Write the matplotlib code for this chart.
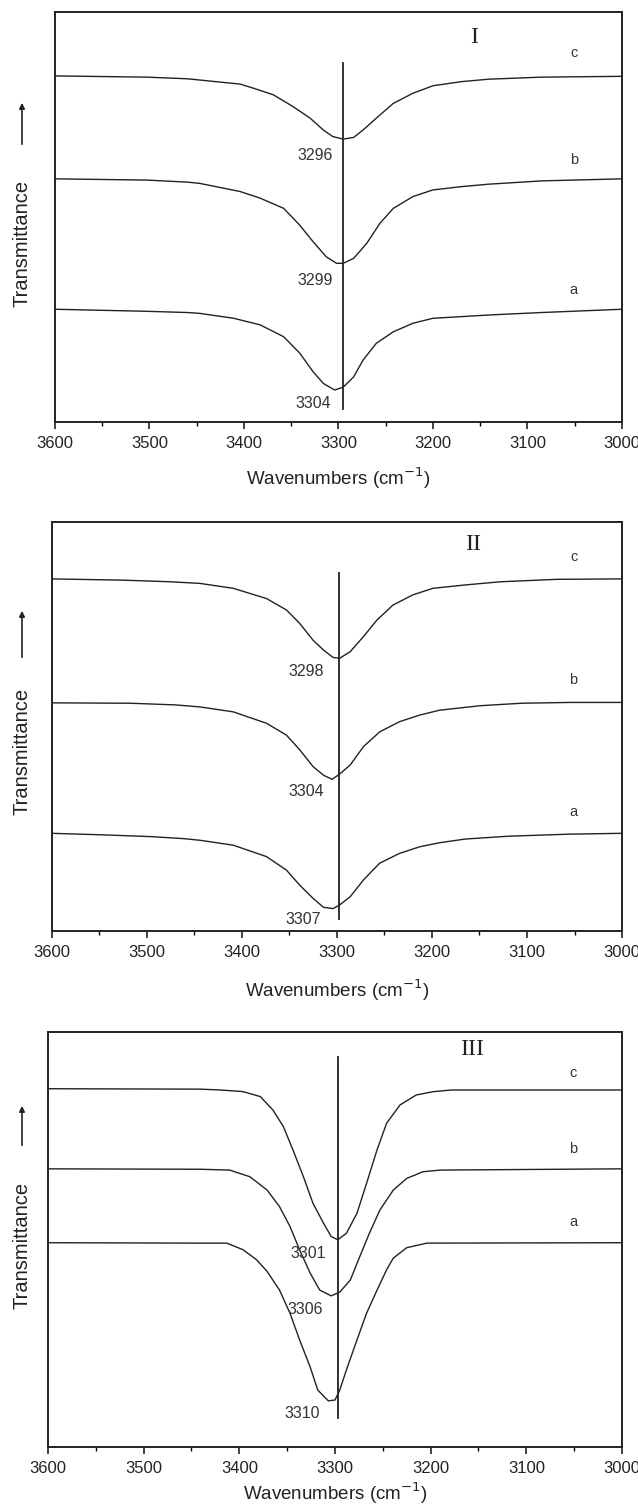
import matplotlib
matplotlib.use("Agg")
import matplotlib.pyplot as plt
from matplotlib.ticker import MultipleLocator

plt.rcParams['font.family'] = ['Liberation Sans', 'DejaVu Sans']

# ---- panel I ----
w1_c = [3600, 3503, 3460, 3447, 3404, 3390, 3369, 3348, 3330, 3316, 3306, 3295,
        3284, 3274, 3260, 3242, 3221, 3200, 3170, 3141, 3085, 3000]
t1_c = [84.4, 84.1, 83.7, 83.4, 82.4, 81.4, 79.8, 76.9, 74.1, 71.2, 69.6, 69.0,
        69.4, 71.2, 74.1, 77.7, 80.2, 82.0, 83.0, 83.6, 84.1, 84.3]
w1_b = [3600, 3503, 3460, 3447, 3404, 3383, 3358, 3341, 3327, 3313, 3302, 3295,
        3284, 3270, 3256, 3242, 3221, 3200, 3170, 3141, 3085, 3000]
t1_b = [59.3, 59.0, 58.5, 58.2, 56.2, 54.6, 52.1, 48.0, 44.0, 40.3, 38.7, 38.7,
        39.9, 43.6, 48.5, 52.1, 55.0, 56.6, 57.4, 58.0, 58.8, 59.3]
w1_a = [3600, 3503, 3460, 3447, 3411, 3383, 3358, 3341, 3327, 3316, 3304, 3295,
        3284, 3274, 3260, 3242, 3221, 3200, 3170, 3141, 3085, 3000]
t1_a = [27.5, 27.0, 26.7, 26.5, 25.3, 23.7, 20.8, 16.8, 12.3, 9.4, 7.8, 8.5,
        11.0, 15.1, 19.2, 22.0, 24.1, 25.3, 25.7, 26.1, 26.7, 27.5]

# ---- panel II ----
w2_c = [3600, 3526, 3475, 3444, 3409, 3374, 3353, 3339, 3325, 3314, 3304, 3297,
        3286, 3272, 3258, 3241, 3220, 3199, 3166, 3128, 3068, 3000]
t2_c = [86.1, 85.8, 85.4, 85.0, 83.8, 81.3, 78.5, 75.2, 71.1, 68.7, 66.9, 66.7,
        68.3, 72.0, 76.0, 79.7, 82.2, 83.8, 84.6, 85.4, 86.0, 86.1]
w2_b = [3600, 3517, 3470, 3444, 3409, 3374, 3353, 3339, 3325, 3314, 3305, 3297,
        3286, 3272, 3255, 3234, 3213, 3192, 3149, 3106, 3055, 3000]
t2_b = [55.8, 55.7, 55.3, 54.8, 53.6, 50.8, 47.9, 44.3, 40.2, 38.1, 37.1, 38.4,
        40.6, 45.1, 48.7, 51.2, 52.8, 54.0, 55.1, 55.7, 55.9, 55.9]
w2_a = [3600, 3556, 3496, 3461, 3444, 3409, 3374, 3353, 3339, 3325, 3314, 3304,
        3297, 3286, 3272, 3255, 3234, 3213, 3192, 3165, 3119, 3055, 3000]
t2_a = [23.9, 23.6, 23.1, 22.6, 22.2, 21.0, 18.2, 14.9, 11.2, 8.0, 5.8, 5.5,
        6.4, 8.4, 12.5, 16.6, 19.0, 20.6, 21.6, 22.5, 23.2, 23.7, 23.9]

# ---- panel III ----
w3_c = [3600, 3441, 3420, 3396, 3378, 3365, 3354, 3344, 3333, 3323, 3312, 3304,
        3297, 3288, 3277, 3267, 3256, 3246, 3232, 3215, 3197, 3178, 3000]
t3_c = [86.3, 86.2, 86.0, 85.6, 84.4, 81.2, 77.2, 71.6, 65.1, 58.7, 53.9, 50.7,
        49.9, 51.5, 56.3, 63.5, 71.6, 78.0, 82.4, 84.8, 85.6, 86.0, 86.0]
w3_b = [3600, 3441, 3410, 3389, 3371, 3358, 3347, 3337, 3326, 3316, 3304, 3295,
        3284, 3274, 3264, 3253, 3239, 3225, 3208, 3190, 3000]
t3_b = [67.0, 66.9, 66.7, 65.1, 61.9, 57.9, 53.1, 47.5, 41.9, 37.8, 36.4, 37.3,
        40.2, 45.9, 51.5, 57.1, 61.9, 64.7, 66.3, 66.7, 67.0]
w3_a = [3600, 3441, 3413, 3396, 3382, 3371, 3358, 3347, 3337, 3326, 3318, 3307,
        3300, 3295, 3288, 3277, 3267, 3256, 3246, 3239, 3225, 3204, 3000]
t3_a = [49.2, 49.1, 49.1, 47.5, 45.1, 42.3, 37.8, 32.2, 25.8, 19.3, 13.7, 11.1,
        11.3, 13.7, 18.6, 25.8, 32.2, 37.8, 42.7, 45.5, 48.0, 49.1, 49.2]

panels = ["I", "II", "III"]
curves = [
    [(w1_a, t1_a), (w1_b, t1_b), (w1_c, t1_c)],
    [(w2_a, t2_a), (w2_b, t2_b), (w2_c, t2_c)],
    [(w3_a, t3_a), (w3_b, t3_b), (w3_c, t3_c)],
]
# peak labels (a, b, c) for each panel
peak_labels = [["3304", "3299", "3296"], ["3307", "3304", "3298"], ["3310", "3306", "3301"]]
peak_pos = [[(3327, 4.6), (3325, 34.4), (3325, 65.1)],
            [(3335, 2.9), (3332, 34.1), (3332, 63.5)],
            [(3334, 8.1), (3331, 33.2), (3328, 46.7)]]
letter_y = [[32.2, 64.0, 90.0], [29.2, 61.4, 91.5], [54.3, 71.7, 90.0]]
ref_line = [(3295, 3.1, 87.5), (3297.4, 2.9, 87.6), (3296.6, 6.9, 94.0)]
numeral_y = [93.7, 94.4, 95.7]

# axes boxes in figure fractions
boxes = [[0.0862, 0.7207, 0.8887, 0.2714],
         [0.0810, 0.3838, 0.8940, 0.2707],
         [0.0752, 0.0424, 0.8997, 0.2747]]
ylab_y = [0.839, 0.5025, 0.176]
arrow_y = [(0.9027, 0.9338), (0.5632, 0.5976), (0.2402, 0.2700)]
xlab_y = [478, 990, 1493]

fig = plt.figure(figsize=(6.38, 15.11), dpi=100)

for i in range(3):
    ax = fig.add_axes(boxes[i])
    for (w, t) in curves[i]:
        ax.plot(w, t, color='#222222', lw=1.0)
    xv, y0, y1 = ref_line[i]
    ax.plot([xv, xv], [y0, y1], color='#222222', lw=1.3)
    for lab, (px, py) in zip(peak_labels[i], peak_pos[i]):
        ax.text(px, py, lab, fontsize=11.5, ha='center', va='center', color='#333333')
    for let, ly in zip(["a", "b", "c"], letter_y[i]):
        ax.text(3051, ly, let, fontsize=10.5, ha='center', va='center', color='#333333')
    ax.text(3157, numeral_y[i], panels[i], family='Liberation Serif', fontsize=17,
            ha='center', va='center', color='#222222')

    ax.set_xlim(3600, 3000)
    ax.set_ylim(0, 100)
    ax.set_yticks([])
    ax.xaxis.set_major_locator(MultipleLocator(100))
    ax.xaxis.set_minor_locator(MultipleLocator(50))
    ax.tick_params(axis='x', which='major', direction='out', length=5, width=1.2,
                   labelsize=12, pad=5, colors='#222222')
    ax.tick_params(axis='x', which='minor', direction='out', length=3, width=1.0)
    for sp in ax.spines.values():
        sp.set_linewidth(1.4)
        sp.set_color('#222222')

    fig.text(0.5 * (boxes[i][0] + boxes[i][0] + boxes[i][2]), 1 - xlab_y[i] / 1511,
             "Wavenumbers (cm$^{-1}$)", fontsize=13.5, ha='center', va='center', color='#222222')
    fig.text(22 / 638, ylab_y[i], "Transmittance", fontsize=14.5, rotation=90,
             ha='center', va='center', color='#222222')
    fig.add_artist(matplotlib.patches.FancyArrowPatch(
        (22 / 638, arrow_y[i][0]), (22 / 638, arrow_y[i][1]),
        transform=fig.transFigure, arrowstyle='-|>', mutation_scale=8,
        lw=1.2, color='#222222'))

fig.savefig("out.png", dpi=100)
